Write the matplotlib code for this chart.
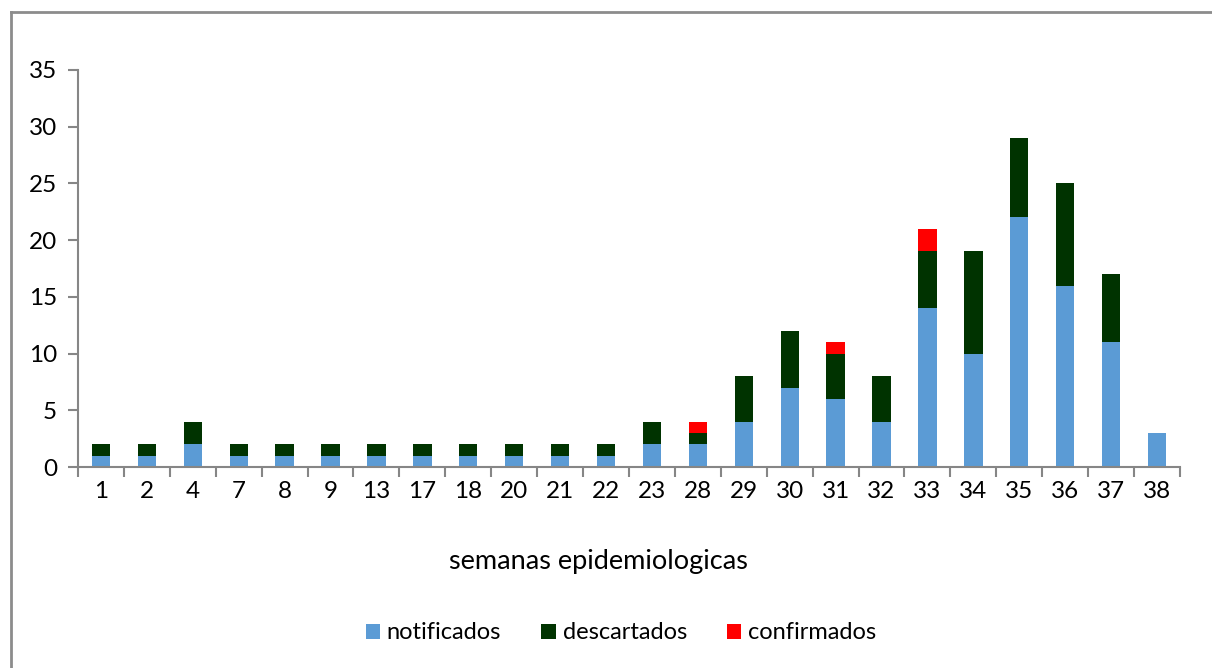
import matplotlib.pyplot as plt
import numpy as np
from matplotlib.lines import Line2D

# semanas epidemiologicas
semanas = ['1', '2', '4', '7', '8', '9', '13', '17', '18', '20', '21', '22',
           '23', '28', '29', '30', '31', '32', '33', '34', '35', '36', '37', '38']
notificados = [1, 1, 2, 1, 1, 1, 1, 1, 1, 1, 1, 1, 2, 2, 4, 7, 6, 4, 14, 10, 22, 16, 11, 3]
descartados = [1, 1, 2, 1, 1, 1, 1, 1, 1, 1, 1, 1, 2, 1, 4, 5, 4, 4, 5, 9, 7, 9, 6, 0]
confirmados = [0, 0, 0, 0, 0, 0, 0, 0, 0, 0, 0, 0, 0, 1, 0, 0, 1, 0, 2, 0, 0, 0, 0, 0]

plt.rcParams['font.family'] = ['Lato', 'DejaVu Sans']

fig = plt.figure(figsize=(12.12, 6.68), dpi=100)
W, H = 1212, 668
ax = fig.add_axes([78 / W, 1 - 467 / H, (1180 - 78) / W, (467 - 70) / H])

x = np.arange(len(semanas))
n = np.array(notificados)
d = np.array(descartados)
c = np.array(confirmados)
w = 0.4
ax.bar(x, n, w, color='#5b9bd5', label='notificados')
ax.bar(x, d, w, bottom=n, color='#003300', label='descartados')
ax.bar(x, c, w, bottom=n + d, color='#ff0000', label='confirmados')

ax.set_xlim(-0.5, len(semanas) - 0.5)
ax.set_ylim(0, 35)
ax.set_yticks(range(0, 36, 5))
ax.set_xticks(x)
ax.set_xticklabels(semanas)
ax.set_xticks(np.arange(-0.5, len(semanas), 1), minor=True)
ax.tick_params(axis='x', which='major', length=0, pad=10, labelsize=17.5)
ax.tick_params(axis='x', which='minor', length=7, color='#868686', width=1.5)
ax.tick_params(axis='y', length=7, color='#868686', width=1.5, labelsize=17.5, pad=8)

for s in ['top', 'right']:
    ax.spines[s].set_visible(False)
for s in ['left', 'bottom']:
    ax.spines[s].set_color('#868686')
    ax.spines[s].set_linewidth(1.5)

ax.set_xlabel('semanas epidemiologicas', fontsize=19.5)
ax.xaxis.set_label_coords(0.472, -0.207)

ax.legend(loc='center', bbox_to_anchor=(0.5 - 8 / 1102, -0.418), ncol=3, frameon=False,
          fontsize=17, handlelength=0.6, handleheight=0.6, handletextpad=0.3,
          columnspacing=1.7)

# outer frame (only left and top visible)
fig.add_artist(Line2D([11 / W, 11 / W], [0, 1 - 12 / H], color='#8c8c8c', lw=2))
fig.add_artist(Line2D([11 / W, 1], [1 - 12 / H, 1 - 12 / H], color='#8c8c8c', lw=2))

fig.savefig('out.png', dpi=100)
